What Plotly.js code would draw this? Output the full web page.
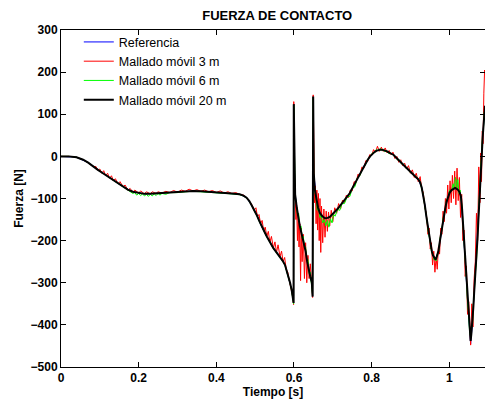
<!DOCTYPE html>
<html>
<head>
<meta charset="utf-8">
<script src="https://cdn.plot.ly/plotly-3.0.1.min.js"></script>
<style>html,body{margin:0;padding:0;background:#fff;}#chart{width:485px;height:405px;}</style>
</head>
<body>
<div id="chart"></div>
<script>
// ---- Data: [tiempo (s), fuerza (N)] ----
const seriesNames = ["Referencia", "Mallado móvil 3 m", "Mallado móvil 6 m", "Mallado móvil 20 m"];
const seriesColors = ["#0000ff", "#ff0000", "#00ff00", "#000000"];

const referencia = [[0,0],[0.04,-2],[0.07,-15],[0.108,-40],[0.134,-56],[0.16,-72],[0.185,-84],[0.215,-89],[0.245,-88],[0.28,-86],[0.32,-83],[0.36,-83],[0.40,-86],[0.44,-88],[0.46,-90],[0.478,-98],[0.491,-116],[0.504,-139],[0.517,-167],[0.530,-190],[0.547,-218],[0.564,-238],[0.577,-258],[0.585,-285],[0.594,-317],[0.599,-348],[0.5995,124],[0.601,-25],[0.603,-90],[0.611,-145],[0.620,-185],[0.630,-225],[0.638,-270],[0.646,-300],[0.648,-333],[0.6495,142],[0.651,-40],[0.658,-105],[0.667,-135],[0.680,-147],[0.693,-143],[0.706,-131],[0.718,-118],[0.730,-104],[0.744,-87],[0.757,-64],[0.770,-40],[0.783,-18],[0.796,0],[0.807,10],[0.817,15],[0.826,16],[0.834,14],[0.845,9],[0.856,4],[0.866,-6],[0.877,-16],[0.888,-26],[0.899,-36],[0.91,-45],[0.920,-54],[0.929,-74],[0.937,-115],[0.946,-175],[0.955,-225],[0.961,-241],[0.966,-243],[0.972,-225],[0.980,-175],[0.989,-127],[0.997,-95],[1.006,-80],[1.015,-75],[1.023,-80],[1.030,-95],[1.036,-167],[1.042,-262],[1.047,-341],[1.052,-404],[1.055,-445],[1.060,-390],[1.064,-325],[1.070,-246],[1.075,-151],[1.079,-72],[1.083,8],[1.088,71],[1.092,120]];

const mallado3m = [[0,0],[0.02,0],[0.04,-2],[0.057,-8],[0.07,-15],[0.082,-24],[0.09,-24],[0.095,-33],[0.10,-30],[0.105,-40],[0.11,-34],[0.115,-46],[0.12,-40],[0.125,-52],[0.13,-46],[0.135,-58],[0.14,-53],[0.147,-65],[0.152,-60],[0.16,-72],[0.165,-68],[0.172,-80],[0.178,-76],[0.185,-85],[0.19,-80],[0.2,-87],[0.205,-82],[0.215,-89],[0.22,-84],[0.23,-89],[0.235,-84],[0.245,-88],[0.25,-84],[0.26,-87],[0.27,-83],[0.28,-86],[0.29,-81],[0.3,-85],[0.31,-80],[0.32,-83],[0.33,-78],[0.34,-82],[0.35,-79],[0.36,-83],[0.37,-80],[0.38,-84],[0.39,-81],[0.40,-86],[0.41,-82],[0.42,-87],[0.43,-84],[0.44,-88],[0.45,-86],[0.46,-90],[0.47,-92],[0.478,-98],[0.485,-106],[0.491,-114],[0.498,-127],[0.502,-122],[0.506,-143],[0.51,-138],[0.514,-160],[0.518,-152],[0.522,-177],[0.526,-168],[0.53,-190],[0.534,-178],[0.538,-204],[0.542,-190],[0.547,-218],[0.551,-203],[0.555,-228],[0.559,-210],[0.564,-238],[0.568,-225],[0.572,-250],[0.576,-240],[0.58,-268],[0.584,-275],[0.588,-295],[0.592,-310],[0.596,-330],[0.599,-352],[0.5995,130],[0.601,-30],[0.603,-85],[0.605,-150],[0.607,-118],[0.609,-200],[0.611,-140],[0.613,-215],[0.615,-160],[0.617,-295],[0.619,-170],[0.621,-250],[0.624,-185],[0.627,-290],[0.630,-205],[0.633,-300],[0.636,-235],[0.639,-290],[0.642,-255],[0.645,-312],[0.648,-335],[0.6495,146],[0.651,-55],[0.653,-110],[0.655,-70],[0.657,-160],[0.659,-80],[0.661,-175],[0.663,-88],[0.665,-200],[0.667,-100],[0.669,-228],[0.671,-118],[0.674,-205],[0.677,-125],[0.680,-192],[0.683,-130],[0.686,-178],[0.689,-132],[0.692,-165],[0.696,-128],[0.700,-155],[0.705,-122],[0.71,-135],[0.715,-112],[0.72,-125],[0.725,-104],[0.73,-110],[0.735,-92],[0.74,-98],[0.745,-80],[0.75,-82],[0.755,-60],[0.76,-62],[0.765,-42],[0.77,-45],[0.775,-25],[0.78,-28],[0.785,-10],[0.79,-12],[0.795,4],[0.80,2],[0.805,16],[0.81,10],[0.815,24],[0.82,12],[0.825,22],[0.83,12],[0.835,20],[0.84,8],[0.845,14],[0.85,4],[0.855,10],[0.86,-5],[0.865,0],[0.87,-14],[0.875,-8],[0.88,-22],[0.885,-16],[0.89,-30],[0.895,-22],[0.90,-40],[0.905,-32],[0.91,-50],[0.915,-40],[0.92,-60],[0.925,-48],[0.929,-78],[0.933,-85],[0.937,-122],[0.941,-135],[0.945,-185],[0.948,-170],[0.951,-220],[0.954,-205],[0.957,-258],[0.960,-225],[0.963,-275],[0.966,-240],[0.969,-268],[0.972,-215],[0.975,-232],[0.978,-170],[0.981,-185],[0.984,-130],[0.987,-155],[0.990,-100],[0.993,-135],[0.996,-68],[0.999,-125],[1.002,-58],[1.005,-110],[1.008,-45],[1.011,-100],[1.014,-35],[1.017,-115],[1.020,-28],[1.023,-105],[1.026,-50],[1.029,-145],[1.032,-90],[1.035,-200],[1.038,-175],[1.041,-285],[1.044,-260],[1.047,-375],[1.050,-345],[1.053,-425],[1.055,-448],[1.058,-350],[1.061,-405],[1.064,-290],[1.067,-250],[1.070,-135],[1.073,-200],[1.076,-25],[1.079,-110],[1.081,8],[1.083,-60],[1.085,60],[1.087,30],[1.089,150],[1.091,205],[1.092,200]];

const mallado6m = [[0,0],[0.02,0],[0.04,-2],[0.057,-8],[0.07,-15],[0.082,-24],[0.095,-32],[0.108,-40],[0.121,-48],[0.134,-57],[0.147,-65],[0.16,-74],[0.172,-81],[0.185,-88],[0.19,-86],[0.195,-92],[0.2,-88],[0.205,-93],[0.21,-89],[0.215,-94],[0.22,-90],[0.225,-95],[0.23,-90],[0.235,-94],[0.24,-89],[0.245,-93],[0.25,-88],[0.255,-92],[0.26,-88],[0.27,-90],[0.28,-86],[0.3,-86],[0.32,-84],[0.34,-83],[0.36,-84],[0.38,-85],[0.40,-87],[0.42,-88],[0.44,-89],[0.46,-91],[0.47,-94],[0.478,-99],[0.485,-107],[0.491,-117],[0.498,-128],[0.504,-140],[0.51,-153],[0.517,-168],[0.524,-180],[0.530,-191],[0.538,-205],[0.547,-219],[0.555,-229],[0.564,-239],[0.571,-249],[0.577,-259],[0.581,-271],[0.585,-286],[0.59,-302],[0.594,-319],[0.5975,-338],[0.599,-350],[0.5995,122],[0.601,-30],[0.603,-95],[0.606,-110],[0.609,-140],[0.612,-135],[0.615,-170],[0.618,-165],[0.621,-195],[0.624,-190],[0.627,-215],[0.630,-215],[0.633,-248],[0.636,-245],[0.639,-278],[0.642,-275],[0.645,-305],[0.648,-330],[0.6495,140],[0.651,-45],[0.654,-85],[0.657,-100],[0.660,-128],[0.663,-120],[0.667,-145],[0.670,-140],[0.674,-158],[0.678,-150],[0.682,-165],[0.686,-152],[0.690,-168],[0.694,-148],[0.698,-158],[0.702,-138],[0.706,-142],[0.712,-126],[0.718,-128],[0.724,-112],[0.730,-112],[0.737,-96],[0.744,-95],[0.750,-76],[0.757,-72],[0.763,-52],[0.770,-45],[0.777,-28],[0.783,-22],[0.790,-6],[0.796,-2],[0.802,8],[0.807,8],[0.812,16],[0.817,13],[0.822,19],[0.826,14],[0.830,17],[0.834,11],[0.840,13],[0.845,6],[0.85,8],[0.856,2],[0.861,0],[0.866,-8],[0.872,-9],[0.877,-18],[0.883,-19],[0.888,-28],[0.894,-29],[0.899,-38],[0.905,-40],[0.91,-47],[0.915,-48],[0.920,-56],[0.925,-60],[0.929,-78],[0.933,-90],[0.937,-120],[0.941,-140],[0.946,-180],[0.950,-198],[0.955,-230],[0.958,-232],[0.961,-246],[0.964,-240],[0.966,-248],[0.969,-232],[0.972,-230],[0.976,-195],[0.980,-180],[0.985,-143],[0.989,-132],[0.993,-103],[0.997,-98],[1.001,-80],[1.006,-82],[1.010,-65],[1.013,-78],[1.016,-50],[1.019,-75],[1.022,-55],[1.025,-88],[1.028,-80],[1.030,-100],[1.033,-120],[1.036,-172],[1.039,-210],[1.042,-268],[1.045,-305],[1.047,-348],[1.050,-375],[1.052,-412],[1.054,-420],[1.055,-430],[1.057,-410],[1.060,-395],[1.062,-350],[1.064,-330],[1.067,-278],[1.070,-250],[1.073,-182],[1.075,-155],[1.077,-100],[1.079,-78],[1.081,-22],[1.083,0],[1.086,55],[1.088,65],[1.090,105],[1.092,110]];

const mallado20m = [[0,0],[0.02,0],[0.04,-2],[0.057,-8],[0.07,-15],[0.082,-24],[0.095,-32],[0.108,-40],[0.121,-48],[0.134,-56],[0.147,-64],[0.16,-72],[0.172,-79],[0.185,-84],[0.2,-87],[0.215,-89],[0.23,-89],[0.245,-88],[0.26,-87],[0.28,-86],[0.3,-85],[0.32,-83],[0.34,-82],[0.36,-83],[0.38,-84],[0.40,-86],[0.42,-87],[0.44,-88],[0.46,-90],[0.47,-93],[0.478,-98],[0.485,-106],[0.491,-116],[0.498,-127],[0.504,-139],[0.51,-152],[0.517,-167],[0.524,-179],[0.530,-190],[0.538,-204],[0.547,-218],[0.555,-228],[0.564,-238],[0.571,-248],[0.577,-258],[0.581,-270],[0.585,-285],[0.59,-300],[0.594,-317],[0.5975,-335],[0.599,-348],[0.5995,124],[0.601,-25],[0.603,-90],[0.607,-120],[0.611,-145],[0.615,-165],[0.620,-185],[0.625,-205],[0.630,-225],[0.634,-250],[0.638,-270],[0.642,-285],[0.646,-300],[0.648,-333],[0.6495,142],[0.651,-40],[0.654,-80],[0.658,-105],[0.662,-122],[0.667,-135],[0.673,-142],[0.680,-147],[0.687,-146],[0.693,-143],[0.700,-137],[0.706,-131],[0.712,-125],[0.718,-118],[0.724,-111],[0.730,-104],[0.737,-96],[0.744,-87],[0.750,-76],[0.757,-64],[0.763,-52],[0.770,-40],[0.777,-29],[0.783,-18],[0.790,-8],[0.796,0],[0.802,6],[0.807,10],[0.812,13],[0.817,15],[0.822,16],[0.826,16],[0.830,15],[0.834,14],[0.840,12],[0.845,9],[0.85,7],[0.856,4],[0.861,-1],[0.866,-6],[0.872,-11],[0.877,-16],[0.883,-21],[0.888,-26],[0.894,-31],[0.899,-36],[0.905,-41],[0.91,-45],[0.915,-50],[0.920,-54],[0.925,-62],[0.929,-74],[0.933,-92],[0.937,-115],[0.941,-143],[0.946,-175],[0.950,-202],[0.955,-225],[0.958,-235],[0.961,-241],[0.964,-244],[0.966,-243],[0.969,-236],[0.972,-225],[0.976,-200],[0.980,-175],[0.985,-148],[0.989,-127],[0.993,-108],[0.997,-95],[1.001,-86],[1.006,-80],[1.010,-77],[1.015,-75],[1.019,-77],[1.023,-80],[1.027,-86],[1.030,-95],[1.033,-125],[1.036,-167],[1.039,-215],[1.042,-262],[1.045,-310],[1.047,-341],[1.050,-380],[1.052,-404],[1.054,-428],[1.055,-438],[1.057,-420],[1.060,-390],[1.062,-358],[1.064,-325],[1.067,-285],[1.070,-246],[1.073,-190],[1.075,-151],[1.077,-110],[1.079,-72],[1.081,-32],[1.083,8],[1.086,45],[1.088,71],[1.090,100],[1.092,120]];

const xTicks = [0, 0.2, 0.4, 0.6, 0.8, 1];
const xTickText = ["0", "0.2", "0.4", "0.6", "0.8", "1"];
const yTicks = [-500, -400, -300, -200, -100, 0, 100, 200, 300];

const allSeries = [referencia, mallado3m, mallado6m, mallado20m];
const widths = [1, 1, 1, 2];

const traces = allSeries.map((s, i) => ({
  type: "scatter",
  mode: "lines",
  name: seriesNames[i],
  x: s.map(p => p[0]),
  y: s.map(p => p[1]),
  line: {color: seriesColors[i], width: widths[i]},
  hoverinfo: "skip"
}));

const FONT = "Arial, 'Liberation Sans', Helvetica, sans-serif";

const layout = {
  width: 485, height: 405,
  margin: {l: 61, r: 0, t: 30, b: 38, pad: 0},
  paper_bgcolor: "#ffffff",
  plot_bgcolor: "#ffffff",
  font: {family: FONT, size: 12, color: "#000"},
  title: {
    text: "<b>FUERZA DE CONTACTO</b>",
    font: {family: FONT, size: 13, color: "#000"},
    xref: "paper", x: 0.51, xanchor: "center",
    yref: "container", y: 0.963, yanchor: "middle"
  },
  showlegend: true,
  legend: {
    x: 0.042, y: 1.008, xanchor: "left", yanchor: "top",
    bgcolor: "rgba(0,0,0,0)", borderwidth: 0,
    font: {family: FONT, size: 12.5, color: "#000"},
    itemclick: false
  },
  xaxis: {
    range: [0, 1.092],
    tickvals: xTicks, ticktext: xTickText,
    ticks: "inside", ticklen: 5, tickwidth: 1, tickcolor: "#000",
    showline: true, linecolor: "#000", linewidth: 1, mirror: "ticks",
    showgrid: false, zeroline: false,
    tickfont: {family: FONT, size: 12, color: "#000", weight: "bold"},
    title: {text: "<b>Tiempo [s]</b>", font: {family: FONT, size: 12, color: "#000"}, standoff: 3}
  },
  yaxis: {
    range: [-500, 300],
    tickvals: yTicks,
    ticks: "inside", ticklen: 5, tickwidth: 1, tickcolor: "#000",
    showline: true, linecolor: "#000", linewidth: 1, mirror: "ticks",
    showgrid: false, zeroline: false,
    tickfont: {family: FONT, size: 12, color: "#000", weight: "bold"},
    title: {text: "<b>Fuerza [N]</b>", font: {family: FONT, size: 12, color: "#000"}, standoff: 4}
  }
};

Plotly.newPlot("chart", traces, layout, {staticPlot: true, displayModeBar: false});
</script>
</body>
</html>
